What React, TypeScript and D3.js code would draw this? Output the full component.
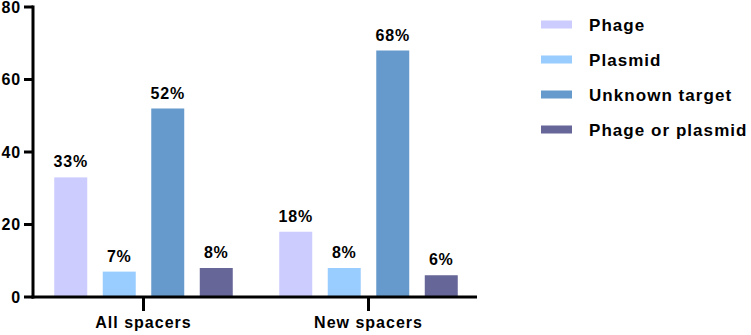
import React from "react";
import * as d3 from "d3";

const groups = ["All spacers", "New spacers"];
const seriesNames = ["Phage", "Plasmid", "Unknown target", "Phage or plasmid"];
const allSpacers = [33, 7, 52, 8];
const newSpacers = [18, 8, 68, 6];
const colors = ["#ccccff", "#99ccff", "#6699cc", "#666699"];
const yTicks = [0, 20, 40, 60, 80];

const W = 751;
const H = 335;
const FONT = "'Liberation Sans', Arial, Helvetica, sans-serif";

export default function App() {
  const values = [allSpacers, newSpacers];
  const y = d3.scaleLinear().domain([0, 80]).range([297, 7]);
  const x0 = d3.scaleBand<string>().domain(groups).range([31, 481]).padding(0);
  const x1 = d3
    .scaleBand<string>()
    .domain(seriesNames)
    .range([0, 178.5])
    .paddingInner(0.32)
    .paddingOuter(0);
  const axisX0 = 33;
  const axisX1 = 477;
  const y0 = y(0);

  return (
    <svg
      width={W}
      height={H}
      style={{ position: "absolute", left: 0, top: 0, background: "#fff" }}
      fontFamily={FONT}
    >
      {/* bars */}
      {groups.map((g, gi) => {
        const center = (x0(g) as number) + x0.bandwidth() / 2;
        const start = center - 178.5 / 2;
        return (
          <g key={g}>
            {seriesNames.map((s, si) => {
              const v = values[gi][si];
              const bx = start + (x1(s) as number);
              const top = y(v);
              return (
                <g key={s}>
                  <rect
                    x={bx}
                    y={top}
                    width={x1.bandwidth()}
                    height={y0 - top}
                    fill={colors[si]}
                  />
                  <text
                    x={bx + x1.bandwidth() / 2}
                    y={top - 10}
                    textAnchor="middle"
                    fontSize={16}
                    fontWeight="bold"
                    letterSpacing={0.8}
                    fill="#000"
                  >
                    {v}%
                  </text>
                </g>
              );
            })}
            {/* category tick */}
            <line x1={center} x2={center} y1={y0} y2={311} stroke="#000" strokeWidth={3} />
            <text
              x={center}
              y={328}
              textAnchor="middle"
              fontSize={16}
              fontWeight="bold"
              letterSpacing={1}
            >
              {g}
            </text>
          </g>
        );
      })}

      {/* y axis */}
      <line x1={axisX0} x2={axisX0} y1={y(80) - 1.5} y2={y0 + 1.5} stroke="#000" strokeWidth={3} />
      {yTicks.map((t) => (
        <g key={t}>
          <line x1={24} x2={axisX0} y1={y(t)} y2={y(t)} stroke="#000" strokeWidth={3} />
          <text
            x={21}
            y={y(t)}
            dy="0.36em"
            textAnchor="end"
            fontSize={16}
            fontWeight="bold"
            letterSpacing={0.8}
          >
            {t}
          </text>
        </g>
      ))}
      {/* x axis */}
      <line x1={axisX0 - 1.5} x2={axisX1} y1={y0} y2={y0} stroke="#000" strokeWidth={3} />

      {/* legend */}
      {seriesNames.map((s, i) => {
        const cy = 24.5 + i * 35;
        return (
          <g key={s}>
            <rect x={541} y={cy - 4} width={31} height={8} fill={colors[i]} />
            <text
              x={589}
              y={cy}
              dy="0.36em"
              fontSize={17}
              fontWeight="bold"
              letterSpacing={1.05}
            >
              {s}
            </text>
          </g>
        );
      })}
    </svg>
  );
}
